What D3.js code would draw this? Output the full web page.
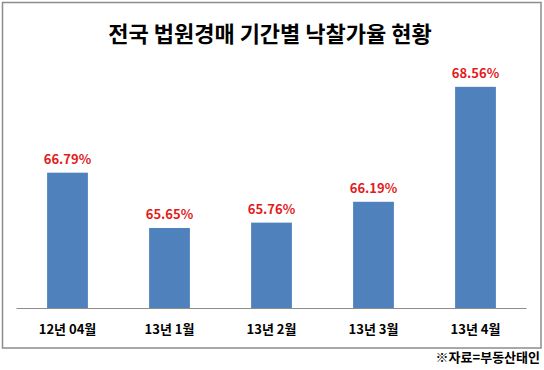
<!DOCTYPE html>
<html>
<head>
<meta charset="utf-8">
<script src="https://cdn.jsdelivr.net/npm/d3@7"></script>
<style>
  body { margin: 0; background: #fff; }
  svg { display: block; font-family: "Noto Sans CJK KR", "Noto Sans", sans-serif; }
</style>
</head>
<body>
<div id="chart"></div>
<script>
const categories = ["12년 04월", "13년 1월", "13년 2월", "13년 3월", "13년 4월"];
const rates = [66.79, 65.65, 65.76, 66.19, 68.56];
const title = "전국 법원경매 기간별 낙찰가율 현황";
const source = "※자료=부동산태인";

const width = 544, height = 370;
const margin = {top: 65, left: 16.5, right: 17.5, bottom: 62};
const plotW = width - margin.left - margin.right;
const plotH = height - margin.top - margin.bottom;

const svg = d3.select("#chart").append("svg")
  .attr("width", width)
  .attr("height", height);

svg.append("rect")
  .attr("x", 2.5).attr("y", 2.5)
  .attr("width", 538.5).attr("height", 345.5)
  .attr("fill", "#fff")
  .attr("stroke", "#8c8c8c")
  .attr("stroke-width", 1.5);

svg.append("text")
  .attr("x", 270).attr("y", 42)
  .attr("text-anchor", "middle")
  .attr("font-size", 22)
  .attr("font-weight", "bold")
  .attr("fill", "#000")
  .text(title);

const g = svg.append("g")
  .attr("transform", "translate(" + margin.left + "," + margin.top + ")");

const x = d3.scaleBand()
  .domain(categories)
  .range([0, plotW])
  .paddingInner(0.6)
  .paddingOuter(0.3);

const y = d3.scaleLinear()
  .domain([64, 69])
  .range([plotH, plotH - 48.5 * 5]);

g.selectAll("rect.bar")
  .data(rates)
  .enter().append("rect")
    .attr("class", "bar")
    .attr("x", (d, i) => x(categories[i]))
    .attr("y", d => y(d))
    .attr("width", x.bandwidth())
    .attr("height", d => plotH - y(d))
    .attr("fill", "#4f81bd");

g.selectAll("text.val")
  .data(rates)
  .enter().append("text")
    .attr("class", "val")
    .attr("x", (d, i) => x(categories[i]) + x.bandwidth() / 2)
    .attr("y", d => y(d) - 9)
    .attr("text-anchor", "middle")
    .attr("font-size", 13)
    .attr("font-weight", "bold")
    .attr("fill", "#e31a1c")
    .text(d => d.toFixed(2) + "%");

const xAxis = d3.axisBottom(x).tickSize(0).tickPadding(17);
const ax = g.append("g")
  .attr("transform", "translate(0," + plotH + ")")
  .call(xAxis);
ax.select(".domain").attr("stroke", "#8c8c8c").attr("d", "M0,0.5H" + plotW);
ax.selectAll("text")
  .attr("font-size", 13)
  .attr("font-weight", "bold")
  .attr("fill", "#000")
  .attr("font-family", "\"Noto Sans CJK KR\", sans-serif");

svg.append("text")
  .attr("x", 540).attr("y", 362)
  .attr("text-anchor", "end")
  .attr("font-size", 13)
  .attr("font-weight", "bold")
  .attr("fill", "#000")
  .text(source);
</script>
</body>
</html>
